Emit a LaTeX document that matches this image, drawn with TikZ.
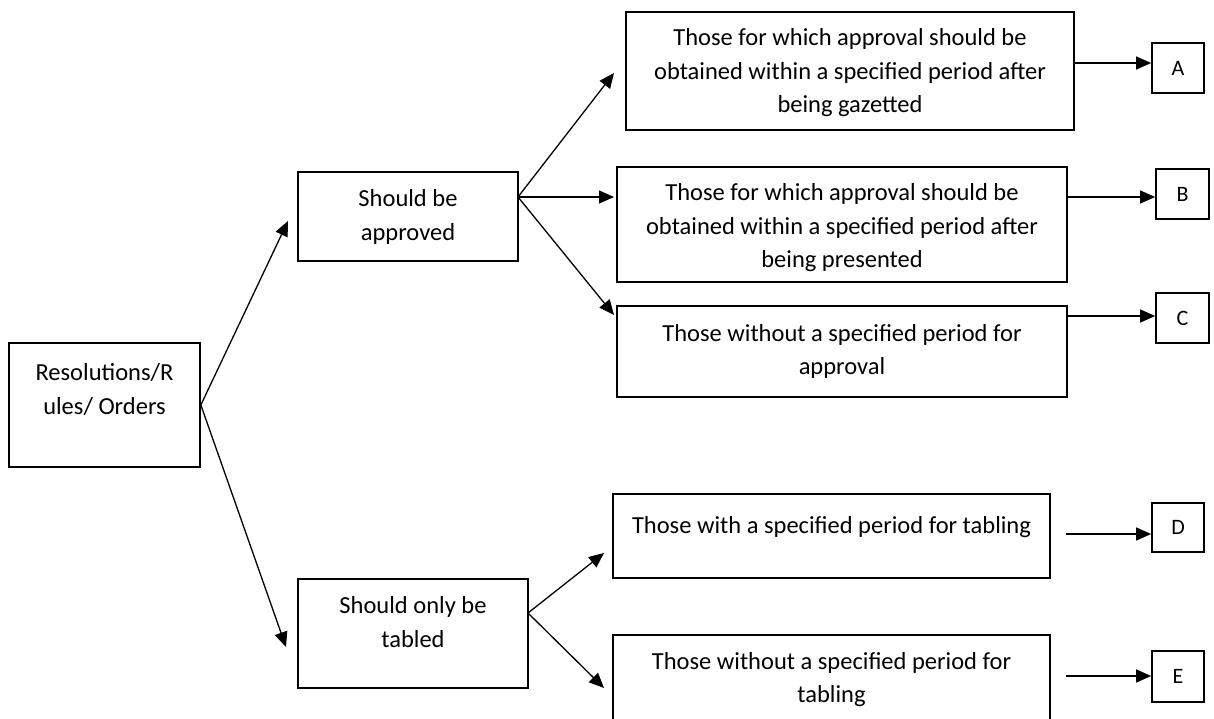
\documentclass[tikz,border=0pt]{standalone}
\usepackage{fontspec}
\setmainfont{Carlito}
\usetikzlibrary{arrows.meta}
\tikzset{
  box/.style={draw, line width=1.7pt, inner sep=0pt},
  txt/.style={align=center, font=\fontsize{24.5}{33.5}\selectfont, inner sep=0pt},
  letter/.style={box, minimum width=52pt, minimum height=50pt, font=\fontsize{22}{26}\selectfont},
  arr/.style={line width=1.3pt, -{Triangle[length=15pt,width=13pt]}},
}
\begin{document}
\begin{tikzpicture}[x=1pt,y=-1pt]
\useasboundingbox (0,0) rectangle (1214,719);
\clip (0,0) rectangle (1214,719);
% main boxes
\node[box, minimum width=191pt, minimum height=124pt] (r) at (104.5,405) {};
\node[box, minimum width=220pt, minimum height=89pt] (sa) at (408,216.5) {};
\node[box, minimum width=230pt, minimum height=109pt] (sot) at (413,633.5) {};
\node[box, minimum width=448pt, minimum height=118pt] (at) at (850,71) {};
\node[box, minimum width=450pt, minimum height=115pt] (bt) at (842,224.5) {};
\node[box, minimum width=450pt, minimum height=91pt] (ct) at (842,351.5) {};
\node[box, minimum width=437pt, minimum height=84pt] (dt) at (831.5,536) {};
\node[box, minimum width=437pt, minimum height=100pt] (et) at (831.5,685) {};
% letter boxes
\node[letter] (a) at (1178,68) {A};
\node[letter, minimum width=53pt] (b) at (1182.5,194) {B};
\node[letter, minimum width=53pt] (c) at (1182.5,318) {C};
\node[letter, minimum height=49pt] (d) at (1178,527.5) {D};
\node[letter, minimum height=51pt] (e) at (1178,676.5) {E};
% texts
\node[txt] (rt) at (104.5,389.5) {Resolutions/R\\ules/ Orders};
\node[txt] (sat) at (408,217) {Should be\\approved};
\node[txt] (sott) at (413,622) {Should only be\\tabled};
\node[txt] (att) at (850,73) {Those for which approval should be\\obtained within a specified period after\\being gazetted};
\node[txt] (btt) at (842,228) {Those for which approval should be\\obtained within a specified period after\\being presented};
\node[txt] (ctt) at (842,351.5) {Those without a specified period for\\approval};
\node[txt] (dtt) at (831.5,527) {Those with a specified period for tabling};
\node[txt] (ett) at (831.5,679.5) {Those without a specified period for\\tabling};
% connector points
\coordinate (safan) at (518,197);
\coordinate (sotfan) at (528,613);
\coordinate (tsa) at (288,221);
\coordinate (tsot) at (286,647);
\coordinate (tat) at (614,73);
\coordinate (tbt) at (614,197);
\coordinate (tct) at (614,315);
\coordinate (tdt) at (604,553);
\coordinate (tet) at (604,688);
\coordinate (sd) at (1066,534);
\coordinate (se) at (1066,676);
% connectors
\draw[arr] (r.east) -- (tsa);
\draw[arr] (r.east) -- (tsot);
\draw[arr] (safan) -- (tat);
\draw[arr] (safan) -- (tbt);
\draw[arr] (safan) -- (tct);
\draw[arr] (sotfan) -- (tdt);
\draw[arr] (sotfan) -- (tet);
\draw[arr] (at.east |- 0,63) -- (a.west |- 0,63);
\draw[arr] (bt.east |- 0,197) -- (b.west |- 0,197);
\draw[arr] (ct.east |- 0,316) -- (c.west |- 0,316);
\draw[arr] (sd) -- (d.west |- sd);
\draw[arr] (se) -- (e.west |- se);
\end{tikzpicture}
\end{document}
